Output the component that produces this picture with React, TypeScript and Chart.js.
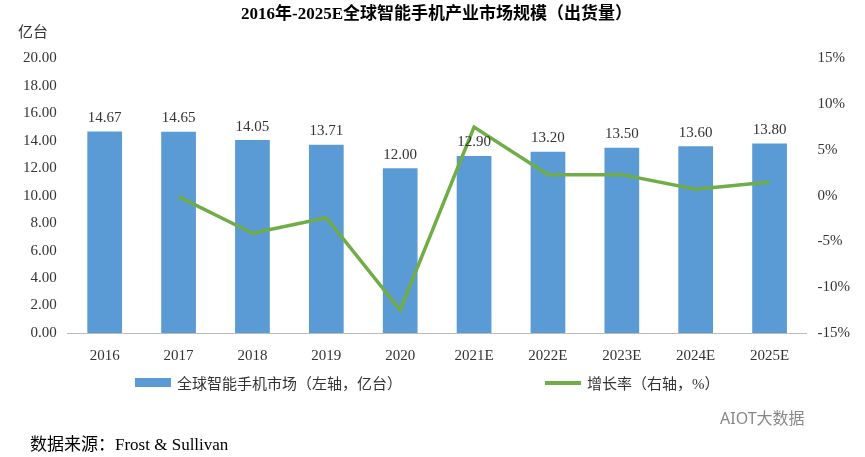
import { useEffect, useRef } from 'react';
import { Chart, registerables } from 'chart.js';

Chart.register(...registerables);

const years = ['2016', '2017', '2018', '2019', '2020', '2021E', '2022E', '2023E', '2024E', '2025E'];
const shipments = [14.67, 14.65, 14.05, 13.71, 12.0, 12.9, 13.2, 13.5, 13.6, 13.8];
const growth = [null, -0.1, -4.1, -2.4, -12.5, 7.5, 2.3, 2.3, 0.7, 1.5];

const serif = '"Liberation Serif", "Noto Sans CJK SC", serif';

const barLabels = {
  id: 'barLabels',
  afterDatasetsDraw(chart: Chart) {
    const ctx = chart.ctx;
    const meta = chart.getDatasetMeta(0);
    ctx.save();
    ctx.font = `15px ${serif}`;
    ctx.fillStyle = '#333';
    ctx.textAlign = 'center';
    ctx.textBaseline = 'bottom';
    meta.data.forEach((el: any, i: number) => {
      ctx.fillText(shipments[i].toFixed(2), el.x, el.y - 6);
    });
    ctx.restore();
  },
};

export default function App() {
  const ref = useRef<HTMLCanvasElement>(null);

  useEffect(() => {
    document.body.style.margin = '0';
    if (!ref.current) return;
    const chart = new Chart(ref.current, {
      type: 'bar',
      data: {
        labels: years,
        datasets: [
          {
            type: 'bar',
            label: '全球智能手机市场（左轴，亿台）',
            data: shipments,
            backgroundColor: '#5B9BD5',
            yAxisID: 'y',
            barPercentage: 0.47,
            categoryPercentage: 1,
            order: 2,
          },
          {
            type: 'line',
            label: '增长率（右轴，%）',
            data: growth,
            borderColor: '#70AD47',
            backgroundColor: '#70AD47',
            borderWidth: 3.5,
            pointRadius: 0,
            yAxisID: 'y1',
            order: 1,
          } as any,
        ],
      },
      options: {
        animation: false,
        responsive: false,
        layout: { padding: { left: 20, right: 12, top: 0, bottom: 86 } },
        plugins: {
          title: {
            display: true,
            text: '2016年-2025E全球智能手机产业市场规模（出货量）',
            font: { family: serif, size: 17, weight: 'bold' },
            color: '#000',
            padding: { top: 4, bottom: 34 },
          },
          legend: { display: false },
          tooltip: { enabled: false },
        },
        scales: {
          x: {
            grid: { display: false },
            border: { color: '#bbb' },
            ticks: { font: { family: serif, size: 15 }, color: '#333', padding: 6 },
          },
          y: {
            min: 0,
            max: 20,
            ticks: {
              stepSize: 2,
              font: { family: serif, size: 15 },
              color: '#333',
              callback: (v: any) => Number(v).toFixed(2),
            },
            grid: { display: false },
            border: { display: false },
          },
          y1: {
            position: 'right',
            min: -15,
            max: 15,
            ticks: {
              stepSize: 5,
              font: { family: serif, size: 15 },
              color: '#333',
              callback: (v: any) => `${v}%`,
            },
            grid: { display: false },
            border: { display: false },
          },
        },
      },
      plugins: [barLabels],
    });
    return () => chart.destroy();
  }, []);

  const legendText = { fontFamily: serif, fontSize: 15, color: '#333' };

  return (
    <div style={{ position: 'relative', width: 865, height: 457 }}>
      <canvas ref={ref} width={865} height={457}></canvas>
      <div style={{ position: 'absolute', left: 18, top: 20, fontFamily: serif, fontSize: 15, color: '#333' }}>亿台</div>
      <div style={{ position: 'absolute', left: 135, top: 372, display: 'flex', alignItems: 'center', ...legendText }}>
        <span style={{ display: 'inline-block', width: 36, height: 9, background: '#5B9BD5', marginRight: 6 }}></span>
        全球智能手机市场（左轴，亿台）
      </div>
      <div style={{ position: 'absolute', left: 545, top: 372, display: 'flex', alignItems: 'center', ...legendText }}>
        <span style={{ display: 'inline-block', width: 36, height: 4, background: '#70AD47', marginRight: 6 }}></span>
        增长率（右轴，%）
      </div>
      <div style={{ position: 'absolute', left: 30, top: 430, fontFamily: serif, fontSize: 17, color: '#000' }}>
        数据来源：Frost &amp; Sullivan
      </div>
      <div style={{ position: 'absolute', left: 720, top: 405, fontFamily: '"Noto Sans", "Noto Sans CJK SC", sans-serif', fontSize: 16, color: '#888' }}>
        AIOT大数据
      </div>
    </div>
  );
}
